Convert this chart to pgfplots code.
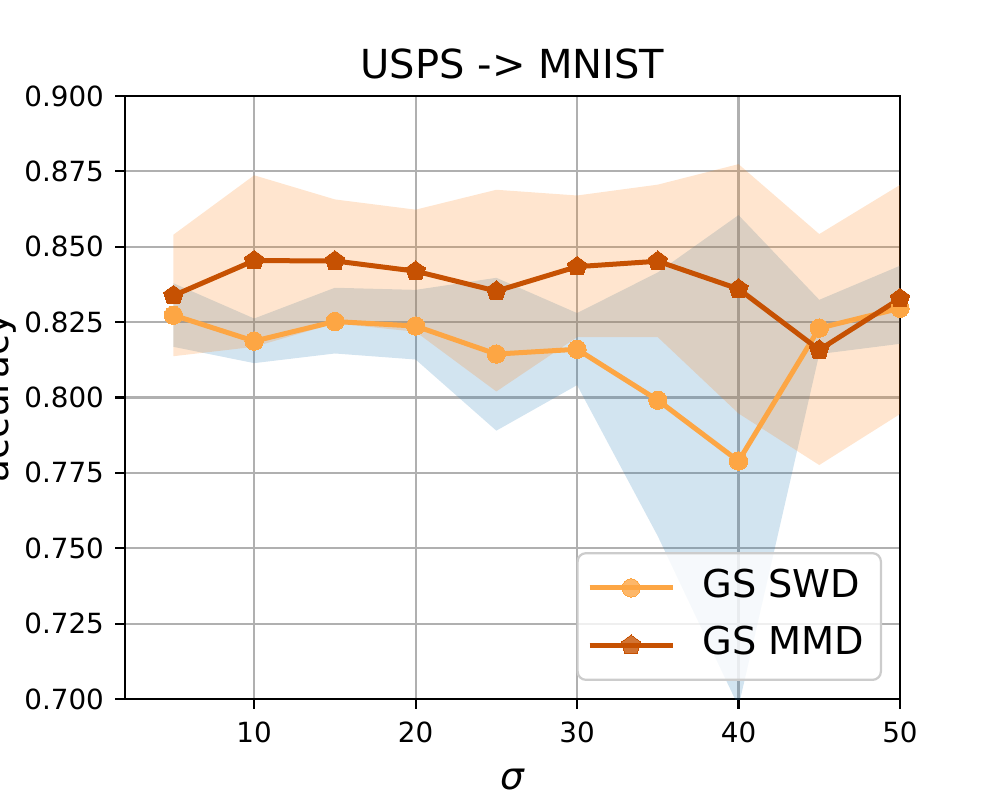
\documentclass[border=0pt]{standalone}
\usepackage{fontspec}
\setmainfont{DejaVu Sans}
\usepackage{pgfplots}
\pgfplotsset{compat=1.18}
\definecolor{tabblue}{HTML}{1F77B4}
\definecolor{taborange}{HTML}{FF7F0E}
\definecolor{swdcol}{RGB}{253,166,68}
\definecolor{mmdcol}{RGB}{198,81,2}
\definecolor{gridgray}{HTML}{B0B0B0}
\definecolor{leggray}{HTML}{CCCCCC}
\pgfplotstableread{
x swd mmd
5  0.8273 0.8338
10 0.8187 0.8454
15 0.8252 0.8453
20 0.8237 0.8419
25 0.8144 0.8353
30 0.8160 0.8434
35 0.7991 0.8452
40 0.7789 0.8360
45 0.8230 0.8158
50 0.8296 0.8328
}\datatable
\begin{document}
\begin{tikzpicture}
\path[use as bounding box] (0,0) rectangle (360bp,288bp);
\begin{axis}[
  at={(45bp,36.36bp)}, anchor=south west,
  scale only axis, width=279bp, height=217.08bp,
  xmin=2, xmax=50, ymin=0.7, ymax=0.9,
  xtick={10,20,30,40,50},
  ytick={0.700,0.725,0.750,0.775,0.800,0.825,0.850,0.875,0.900},
  yticklabel style={/pgf/number format/fixed, /pgf/number format/fixed zerofill, /pgf/number format/precision=3},
  /pgf/number format/assume math mode=true,
  tick label style={font=\fontsize{10bp}{12bp}\selectfont, inner sep=0pt},
  yticklabel style={anchor=east, xshift=-3.9bp},
  xticklabel style={anchor=north, yshift=-4.6bp},
  grid=major,
  major grid style={gridgray, line width=0.8bp},
  axis line style={black, line width=0.8bp},
  tick style={black, line width=0.8bp},
  tick align=outside, major tick length=3.5bp,
  tick pos=left,
  every axis title shift=0pt,
  title={USPS -> MNIST},
  title style={at={(axis description cs:0.5,1.0282)}, anchor=base, inner sep=0pt,
    font=\fontsize{14.4bp}{17bp}\selectfont},
  xlabel={\itshape σ},
  xlabel style={at={(axis description cs:0.5,-0.1493)}, anchor=base, inner sep=0pt,
    font=\fontsize{13.5bp}{16bp}\selectfont},
  ylabel={accuracy},
  ylabel style={at={(axis description cs:-0.1497,0.5)}, anchor=base, inner sep=0pt,
    font=\fontsize{13.5bp}{16bp}\selectfont},
  legend cell align=left,
  legend style={at={(axis description cs:0.9768,0.0299)}, anchor=south east,
    draw=leggray, line width=0.8bp, fill=white, fill opacity=0.8, text opacity=1,
    rounded corners=3bp, inner xsep=3.4bp, inner ysep=6.2bp,
    font=\fontsize{13.8bp}{16bp}\selectfont, row sep=8.0bp, column sep=9.8bp,
    nodes={inner sep=0pt, text height=9.6bp, text depth=3bp}},
  legend image code/.code={\draw[mark repeat=2,mark phase=2,#1] plot coordinates {(0bp,0bp) (14.95bp,0bp) (29.9bp,0bp)};},
]
% SWD band (blue)
\addplot[forget plot, draw=none, fill=tabblue, fill opacity=0.2] coordinates {
 (5,0.8379) (10,0.8262) (15,0.8364) (20,0.8357) (25,0.8397) (30,0.8280) (35,0.8415) (40,0.8605) (45,0.8324) (50,0.8437)
 (50,0.8178) (45,0.8144) (40,0.6975) (35,0.7540) (30,0.8041) (25,0.7890) (20,0.8126) (15,0.8146) (10,0.8114) (5,0.8168)
} -- cycle;
% MMD band (orange)
\addplot[forget plot, draw=none, fill=taborange, fill opacity=0.2] coordinates {
 (5,0.8540) (10,0.8737) (15,0.8657) (20,0.8623) (25,0.8689) (30,0.8670) (35,0.8706) (40,0.8774) (45,0.8542) (50,0.8705)
 (50,0.7945) (45,0.7776) (40,0.7947) (35,0.8200) (30,0.8200) (25,0.8020) (20,0.8218) (15,0.8246) (10,0.8168) (5,0.8137)
} -- cycle;
\addplot[swdcol, line width=1.8bp, mark=*, mark size=3.3bp, mark options={solid, fill=swdcol, draw=swdcol, line width=0bp}] table[x=x, y=swd] {\datatable};
\addlegendentry{GS SWD\rule{2.6bp}{0pt}}
\addplot[mmdcol, line width=1.8bp, mark=pentagon*, mark size=3.7bp, mark options={solid, fill=mmdcol, draw=mmdcol, line width=0bp}] table[x=x, y=mmd] {\datatable};
\addlegendentry{GS MMD\rule{2.6bp}{0pt}}
\end{axis}
\end{tikzpicture}
\end{document}
